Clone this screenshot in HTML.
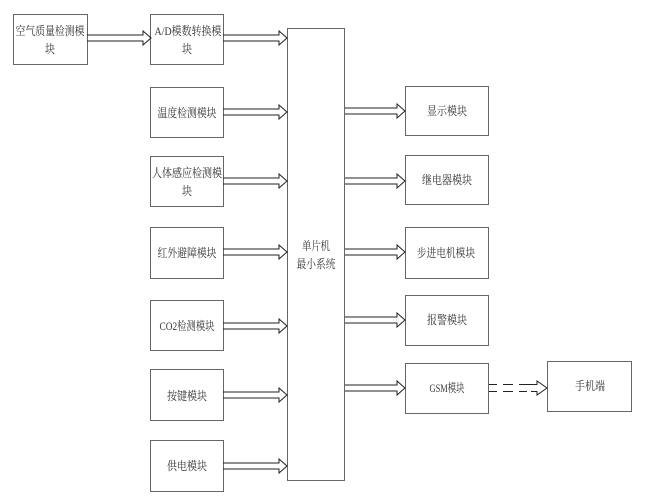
<!DOCTYPE html>
<html><head><meta charset="utf-8"><style>
html,body{margin:0;padding:0;background:#fff;}
svg{display:block;}
text{font-family:"Liberation Serif","Noto Serif CJK SC",serif;font-size:12px;fill:#333;}
</style></head><body>
<svg width="658" height="499" viewBox="0 0 658 499" xmlns="http://www.w3.org/2000/svg">
<defs>
<g id="arr"><polyline points="0,-3 56,-3 56,-7 64,0 56,7 56,3 0,3" fill="none" stroke="#222" stroke-width="1"/></g>
<g id="arr2"><polyline points="0,-3 52,-3 52,-7 60,0 52,7 52,3 0,3" fill="none" stroke="#222" stroke-width="1"/></g>
</defs>
<g fill="#fff" stroke="#666" stroke-width="1">
<rect x="13.5" y="14.5" width="74" height="50"/>
<rect x="150.5" y="14.5" width="73" height="50"/>
<rect x="150.5" y="87.5" width="73" height="50"/>
<rect x="150.5" y="156.5" width="73" height="50"/>
<rect x="150.5" y="227.5" width="73" height="51"/>
<rect x="150.5" y="300.5" width="73" height="50"/>
<rect x="150.5" y="369.5" width="73" height="51"/>
<rect x="150.5" y="440.5" width="73" height="51"/>
<rect x="287.5" y="28.5" width="57" height="452"/>
<rect x="405.5" y="86.5" width="83" height="49"/>
<rect x="405.5" y="155.5" width="83" height="49"/>
<rect x="405.5" y="227.5" width="83" height="51"/>
<rect x="405.5" y="295.5" width="83" height="50"/>
<rect x="405.5" y="363.5" width="83" height="50"/>
<rect x="547.5" y="361.5" width="84" height="50"/>
</g>
<use href="#arr" x="87" y="38"/>
<use href="#arr" x="223" y="38"/>
<use href="#arr" x="223" y="112"/>
<use href="#arr" x="223" y="181"/>
<use href="#arr" x="223" y="252"/>
<use href="#arr" x="223" y="326"/>
<use href="#arr" x="223" y="395"/>
<use href="#arr" x="223" y="466"/>
<use href="#arr2" x="345" y="111"/>
<use href="#arr2" x="345" y="181"/>
<use href="#arr2" x="345" y="252"/>
<use href="#arr2" x="345" y="320"/>
<use href="#arr2" x="345" y="388"/>
<g stroke="#222" stroke-width="1" fill="none">
<path d="M489,384.5 h8 M503,384.5 h10 M519,384.5 h10 M489,391.5 h8 M503,391.5 h10 M519,391.5 h8"/>
<polyline points="529,384.5 537,384.5 537,381 547,388 537,395 537,391.5 531,391.5"/>
</g>
<g text-anchor="middle" lengthAdjust="spacingAndGlyphs">
<text x="50" y="35" textLength="69" lengthAdjust="spacingAndGlyphs">空气质量检测模</text><text x="50" y="53" textLength="10" lengthAdjust="spacingAndGlyphs">块</text>
<text x="188" y="35" textLength="67" lengthAdjust="spacingAndGlyphs">A/D模数转换模</text><text x="187" y="53" textLength="10" lengthAdjust="spacingAndGlyphs">块</text>
<text x="187" y="117" textLength="59" lengthAdjust="spacingAndGlyphs">温度检测模块</text>
<text x="187" y="177" textLength="70" lengthAdjust="spacingAndGlyphs">人体感应检测模</text><text x="187" y="195" textLength="10" lengthAdjust="spacingAndGlyphs">块</text>
<text x="187" y="257" textLength="59" lengthAdjust="spacingAndGlyphs">红外避障模块</text>
<text x="187" y="330" textLength="55" lengthAdjust="spacingAndGlyphs">CO2检测模块</text>
<text x="187" y="400" textLength="40" lengthAdjust="spacingAndGlyphs">按键模块</text>
<text x="187" y="470" textLength="40" lengthAdjust="spacingAndGlyphs">供电模块</text>
<text x="316" y="250" textLength="28" lengthAdjust="spacingAndGlyphs">单片机</text><text x="316" y="268" textLength="39" lengthAdjust="spacingAndGlyphs">最小系统</text>
<text x="447" y="115" textLength="40" lengthAdjust="spacingAndGlyphs">显示模块</text>
<text x="447" y="184" textLength="50" lengthAdjust="spacingAndGlyphs">继电器模块</text>
<text x="446" y="257" textLength="58" lengthAdjust="spacingAndGlyphs">步进电机模块</text>
<text x="447" y="324" textLength="40" lengthAdjust="spacingAndGlyphs">报警模块</text>
<text x="447" y="392" textLength="35" lengthAdjust="spacingAndGlyphs">GSM模块</text>
<text x="590" y="390" textLength="30" lengthAdjust="spacingAndGlyphs">手机端</text>
</g>
</svg>
</body></html>
